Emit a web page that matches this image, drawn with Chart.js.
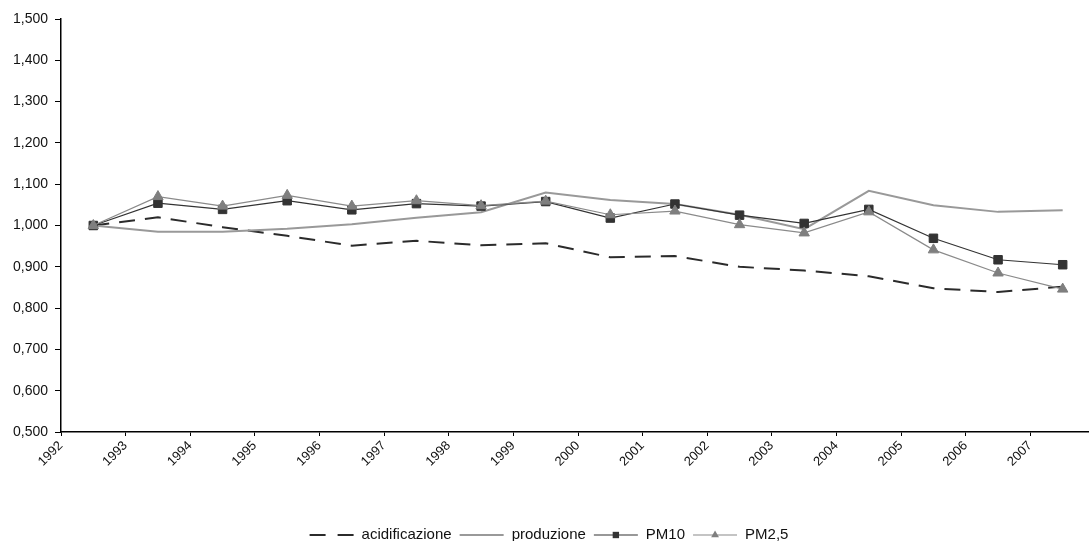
<!DOCTYPE html>
<html>
<head>
<meta charset="utf-8">
<script src="https://cdn.jsdelivr.net/npm/chart.js@4"></script>
<style>
  html, body { margin: 0; padding: 0; background: #fff; overflow: hidden; }
  #wrap { width: 1102px; height: 541px; }
</style>
</head>
<body>
<div id="wrap"><canvas id="chart" width="1102" height="541"></canvas></div>
<script>
const years = ["1992", "1993", "1994", "1995", "1996", "1997", "1998", "1999",
               "2000", "2001", "2002", "2003", "2004", "2005", "2006", "2007"];
const acidificazione = [1.000, 1.020, 0.996, 0.975, 0.951, 0.963, 0.952, 0.957,
                        0.923, 0.926, 0.900, 0.891, 0.877, 0.848, 0.839, 0.852];
const produzione = [1.000, 0.985, 0.985, 0.992, 1.003, 1.019, 1.032, 1.080,
                    1.062, 1.052, 1.026, 0.991, 1.084, 1.049, 1.033, 1.037];
const pm10 = [1.000, 1.054, 1.039, 1.060, 1.038, 1.053, 1.047, 1.058,
              1.018, 1.052, 1.025, 1.005, 1.039, 0.969, 0.917, 0.905];
const pm25 = [1.000, 1.070, 1.047, 1.073, 1.047, 1.060, 1.048, 1.059,
              1.026, 1.035, 1.002, 0.982, 1.033, 0.941, 0.885, 0.846];
const yMin = 0.5, yMax = 1.5, yStep = 0.1;

const font = "'Liberation Sans', Arial, sans-serif";

// Excel style legend: line sample with marker, then the label
const bottomLegend = {
  id: 'bottomLegend',
  afterDraw(chart) {
    const ctx = chart.ctx;
    const sample = 44, gapText = 8, gapItem = 8;
    ctx.save();
    ctx.font = "15px " + font;
    const items = chart.data.datasets.map(ds => ({ ds: ds, w: ctx.measureText(ds.label).width }));
    const total = items.reduce((s, it) => s + sample + gapText + it.w, 0) + gapItem * (items.length - 1);
    let x = 549 - total / 2;
    const y = 535;
    items.forEach(it => {
      const ds = it.ds;
      ctx.strokeStyle = ds.borderColor;
      ctx.lineWidth = ds.borderWidth;
      ctx.setLineDash(ds.legendDash || []);
      ctx.beginPath();
      ctx.moveTo(x, y);
      ctx.lineTo(x + sample, y);
      ctx.stroke();
      ctx.setLineDash([]);
      if (ds.pointRadius > 0) {
        const cx = x + sample / 2;
        ctx.fillStyle = ds.pointBackgroundColor;
        ctx.beginPath();
        if (ds.pointStyle === 'rect') {
          const s = (ds.pointRadius - 1.5) * Math.SQRT1_2;
          ctx.rect(cx - s, y - s, 2 * s, 2 * s);
        } else {
          const r = ds.pointRadius - 1.5;
          ctx.moveTo(cx, y - r);
          ctx.lineTo(cx - r * 0.866, y + r * 0.5);
          ctx.lineTo(cx + r * 0.866, y + r * 0.5);
          ctx.closePath();
        }
        ctx.fill();
      }
      x += sample + gapText;
      ctx.fillStyle = '#111';
      ctx.textBaseline = 'middle';
      ctx.textAlign = 'left';
      ctx.fillText(ds.label, x, y);
      x += it.w + gapItem;
    });
    ctx.restore();
  }
};

new Chart(document.getElementById("chart").getContext("2d"), {
  type: "line",
  data: {
    labels: years,
    datasets: [
      {
        label: "acidificazione",
        data: acidificazione,
        borderColor: "#2b2b2b",
        borderWidth: 2,
        borderDash: [16, 10],
        legendDash: [16, 12],
        pointRadius: 0,
        tension: 0,
        order: 3
      },
      {
        label: "produzione",
        data: produzione,
        borderColor: "#999999",
        borderWidth: 2,
        pointRadius: 0,
        tension: 0,
        order: 2
      },
      {
        label: "PM10",
        data: pm10,
        borderColor: "#333333",
        borderWidth: 1.2,
        pointStyle: "rect",
        pointRadius: 6,
        pointBackgroundColor: "#333333",
        pointBorderColor: "#333333",
        pointBorderWidth: 1,
        tension: 0,
        order: 1
      },
      {
        label: "PM2,5",
        data: pm25,
        borderColor: "#8a8a8a",
        borderWidth: 1.2,
        pointStyle: "triangle",
        pointRadius: 6,
        pointBackgroundColor: "#7f7f7f",
        pointBorderColor: "#7f7f7f",
        pointBorderWidth: 1,
        tension: 0,
        order: 0
      }
    ]
  },
  options: {
    responsive: false,
    animation: false,
    layout: { padding: { top: 19, left: 0, right: 0, bottom: 0 } },
    plugins: {
      legend: { display: false },
      tooltip: { enabled: false }
    },
    scales: {
      x: {
        offset: true,
        grid: { offset: true, drawOnChartArea: false, drawTicks: true, tickLength: 4, color: "#000" },
        border: { display: true, color: "#000", width: 1.5 },
        ticks: {
          autoSkip: false, minRotation: 45, maxRotation: 45,
          labelOffset: -32.5, padding: 2,
          color: "#111", font: { family: font, size: 13 }
        },
        afterFit(scale) { scale.height = 109; }
      },
      y: {
        min: yMin, max: yMax,
        grid: { drawOnChartArea: false, drawTicks: true, tickLength: 6, color: "#000" },
        border: { display: true, color: "#000", width: 1.5 },
        ticks: {
          stepSize: yStep, padding: 7,
          color: "#111", font: { family: font, size: 14 },
          callback: v => v.toFixed(3).replace(".", ",")
        },
        afterFit(scale) { scale.width = 61; }
      }
    }
  },
  plugins: [bottomLegend]
});
</script>
</body>
</html>
